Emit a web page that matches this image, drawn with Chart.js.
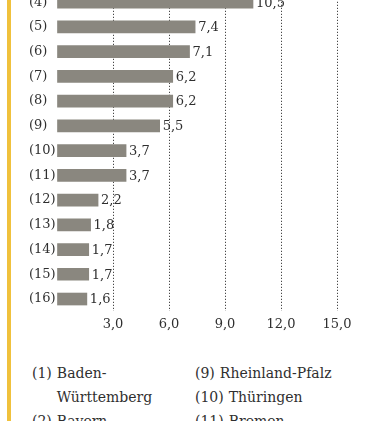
<!DOCTYPE html>
<html>
<head>
<meta charset="utf-8">
<script src="https://cdn.jsdelivr.net/npm/chart.js@4/dist/chart.umd.min.js"></script>
<style>
    html, body { margin: 0; padding: 0; background: #fff; }
    body { width: 367px; height: 421px; position: relative; overflow: hidden; }
    .stripe { position: absolute; left: 7px; top: 0; width: 4px; height: 421px; background: #f0c13c; }
    .chart-box { position: absolute; left: 0; top: -21px; width: 367px; height: 358px; }
    .legend { position: absolute; top: 361px; font-family: "DejaVu Serif", serif; font-size: 14px; line-height: 24px; color: #2f2f2f; }
    .legend .item { display: flex; }
    .legend .num { margin-right: 5px; white-space: nowrap; }
    #legend-left { left: 32px; width: 150px; }
    #legend-right { left: 195px; width: 170px; }
</style>
</head>
<body>
<div class="stripe"></div>
<div class="chart-box"><canvas id="chart-laender"></canvas></div>
<div class="legend" id="legend-left"></div>
<div class="legend" id="legend-right"></div>

<script>
    // Daten
    const kategorien = ["(4)", "(5)", "(6)", "(7)", "(8)", "(9)", "(10)", "(11)", "(12)", "(13)", "(14)", "(15)", "(16)"];
    const werte = [10.5, 7.4, 7.1, 6.2, 6.2, 5.5, 3.7, 3.7, 2.2, 1.8, 1.7, 1.7, 1.6];
    const achsenWerte = [3, 6, 9, 12, 15];
    const achsenLabels = ["3,0", "6,0", "9,0", "12,0", "15,0"];
    const legendeLinks = [["(1)", "Baden-Württemberg"], ["(2)", "Bayern"]];
    const legendeRechts = [["(9)", "Rheinland-Pfalz"], ["(10)", "Thüringen"], ["(11)", "Bremen"]];

    const schrift = { family: "DejaVu Serif", size: 13 };
    const textFarbe = "#2f2f2f";

    // Legende
    const fillLegend = (id, rows) => {
        const el = document.getElementById(id);
        rows.forEach(([num, name]) => {
            const item = document.createElement("div");
            item.className = "item";
            item.innerHTML = '<span class="num">' + num + '</span><span>' + name + '</span>';
            el.appendChild(item);
        });
    };
    fillLegend("legend-left", legendeLinks);
    fillLegend("legend-right", legendeRechts);

    // Wert-Beschriftung hinter den Balken
    const wertLabels = {
        id: "wertLabels",
        afterDatasetsDraw(chart) {
            const ctx = chart.ctx;
            const meta = chart.getDatasetMeta(0);
            ctx.save();
            ctx.font = schrift.size + "px " + schrift.family;
            ctx.fillStyle = textFarbe;
            ctx.textAlign = "left";
            ctx.textBaseline = "middle";
            meta.data.forEach((bar, i) => {
                ctx.fillText(werte[i].toFixed(1).replace(".", ","), bar.x + 3, bar.y + 1);
            });
            ctx.restore();
        }
    };

    new Chart(document.getElementById("chart-laender"), {
        type: "bar",
        data: {
            labels: kategorien,
            datasets: [{
                data: werte,
                backgroundColor: "#8a877f",
                barThickness: 12,
                clip: false
            }]
        },
        options: {
            indexAxis: "y",
            responsive: true,
            maintainAspectRatio: false,
            animation: false,
            layout: { padding: { left: 29, right: 30, top: 0, bottom: 0 } },
            plugins: { legend: { display: false }, tooltip: { enabled: false } },
            scales: {
                x: {
                    min: 0,
                    max: 15,
                    afterBuildTicks: (scale) => {
                        scale.ticks = [0].concat(achsenWerte).map(v => ({ value: v }));
                    },
                    ticks: {
                        padding: 5,
                        maxRotation: 0,
                        font: schrift,
                        color: textFarbe,
                        callback: (v) => {
                            const i = achsenWerte.indexOf(v);
                            return i < 0 ? "" : achsenLabels[i];
                        }
                    },
                    grid: {
                        drawTicks: false,
                        lineWidth: 1,
                        color: (c) => (c.tick && c.tick.value === 0 ? "rgba(0,0,0,0)" : "#1a1a1a")
                    },
                    border: { display: false, dash: [1, 2] }
                },
                y: {
                    afterFit: (scale) => { scale.width = 28; },
                    ticks: {
                        crossAlign: "far",
                        padding: 3,
                        font: schrift,
                        color: textFarbe
                    },
                    grid: { display: false, drawTicks: false },
                    border: { display: false }
                }
            }
        },
        plugins: [wertLabels]
    });
</script>
</body>
</html>
